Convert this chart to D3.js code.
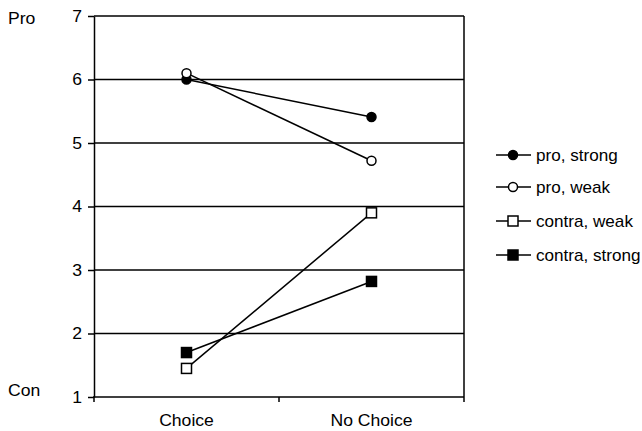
<!DOCTYPE html>
<html>
<head>
<meta charset="utf-8">
<script src="https://cdn.jsdelivr.net/npm/d3@7"></script>
<style>
html,body{margin:0;padding:0;background:#fff;}
text{font-family:"Liberation Sans",Arial,sans-serif;fill:#000;}
</style>
</head>
<body>
<svg id="chart" width="642" height="431"></svg>
<script>
const categories = ["Choice", "No Choice"];
const seriesNames = ["pro, strong", "pro, weak", "contra, weak", "contra, strong"];
const proStrong = [6.0, 5.41];
const proWeak = [6.1, 4.72];
const contraWeak = [1.45, 3.9];
const contraStrong = [1.7, 2.82];
const yTicks = [1, 2, 3, 4, 5, 6, 7];
const yEndLabels = ["Con", "Pro"];

const series = [
  {name: seriesNames[0], values: proStrong, shape: "circle", fill: "#000"},
  {name: seriesNames[1], values: proWeak, shape: "circle", fill: "#fff"},
  {name: seriesNames[2], values: contraWeak, shape: "square", fill: "#fff"},
  {name: seriesNames[3], values: contraStrong, shape: "square", fill: "#000"}
];

const svg = d3.select("#chart");
const L = 94, R = 464, T = 16, B = 397;
const FS = 16, SX = 1.1, SXL = 1.07;

const x = d3.scaleBand().domain(categories).range([L, R]);
const y = d3.scaleLinear().domain([1, 7]).range([B, T]);
const cx = c => x(c) + x.bandwidth() / 2;

// grid lines
svg.append("g").selectAll("line").data(yTicks.filter(v => v > 1)).join("line")
  .attr("x1", L).attr("x2", R)
  .attr("y1", d => y(d)).attr("y2", d => y(d))
  .attr("stroke", "#000").attr("stroke-width", 1.5);
// right border
svg.append("line").attr("x1", R).attr("x2", R).attr("y1", T).attr("y2", B)
  .attr("stroke", "#000").attr("stroke-width", 1.5);

// y axis
const yAxis = svg.append("g").attr("transform", `translate(${L},0)`)
  .call(d3.axisLeft(y).tickValues(yTicks).tickSize(6).tickSizeOuter(0).tickFormat(""));
yAxis.select(".domain").attr("stroke-width", 1.5);
yAxis.selectAll(".tick line").attr("stroke-width", 1.5);

// x axis
const xEdges = [L].concat(categories.map(c => x(c) + x.bandwidth()));
const xAxis = svg.append("g").attr("transform", `translate(0,${B})`);
xAxis.append("line").attr("x1", L - 1).attr("x2", R).attr("y1", 0).attr("y2", 0)
  .attr("stroke", "#000").attr("stroke-width", 1.5);
xAxis.selectAll("line.tk").data(xEdges).join("line").attr("class", "tk")
  .attr("x1", d => d).attr("x2", d => d).attr("y1", 0).attr("y2", 5)
  .attr("stroke", "#000").attr("stroke-width", 1.5);

// y tick labels
svg.append("g").selectAll("text").data(yTicks).join("text")
  .attr("text-anchor", "end")
  .attr("transform", d => `translate(82,${y(d) + 5.5}) scale(${SX},1)`)
  .attr("font-size", FS)
  .text(d => d);

// end labels
svg.append("text").attr("transform", `translate(8,${y(7) + 8}) scale(${SX},1)`)
  .attr("font-size", FS).text(yEndLabels[1]);
svg.append("text").attr("transform", `translate(8,${y(1) - 1}) scale(${SX},1)`)
  .attr("font-size", FS).text(yEndLabels[0]);

// x labels
svg.append("g").selectAll("text").data(categories).join("text")
  .attr("text-anchor", "middle")
  .attr("transform", d => `translate(${cx(d)},${B + 29}) scale(${SX},1)`)
  .attr("font-size", FS)
  .text(d => d);

// lines
const line = d3.line().x((d, i) => cx(categories[i])).y(d => y(d));
svg.append("g").selectAll("path").data(series).join("path")
  .attr("d", d => line(d.values))
  .attr("fill", "none").attr("stroke", "#000").attr("stroke-width", 1.5);

function marker(g, s, px, py) {
  if (s.shape === "circle") {
    g.append("circle").attr("cx", px).attr("cy", py).attr("r", 4.5)
      .attr("fill", s.fill).attr("stroke", "#000").attr("stroke-width", 1.5);
  } else {
    g.append("rect").attr("x", px - 5).attr("y", py - 5).attr("width", 10).attr("height", 10)
      .attr("fill", s.fill).attr("stroke", "#000").attr("stroke-width", 1.5);
  }
}

const mg = svg.append("g");
series.forEach(s => {
  s.values.forEach((v, i) => marker(mg, s, cx(categories[i]), y(v)));
});

// legend
const legendY = [155, 187, 221, 255];
const lg = svg.append("g");
series.forEach((s, i) => {
  const ly = legendY[i];
  lg.append("line").attr("x1", 496).attr("x2", 531).attr("y1", ly).attr("y2", ly)
    .attr("stroke", "#000").attr("stroke-width", 1.5);
  marker(lg, s, 513, ly);
  lg.append("text").attr("transform", `translate(536,${ly + 5.5}) scale(${SXL},1)`)
    .attr("font-size", FS).text(s.name);
});
</script>
</body>
</html>
